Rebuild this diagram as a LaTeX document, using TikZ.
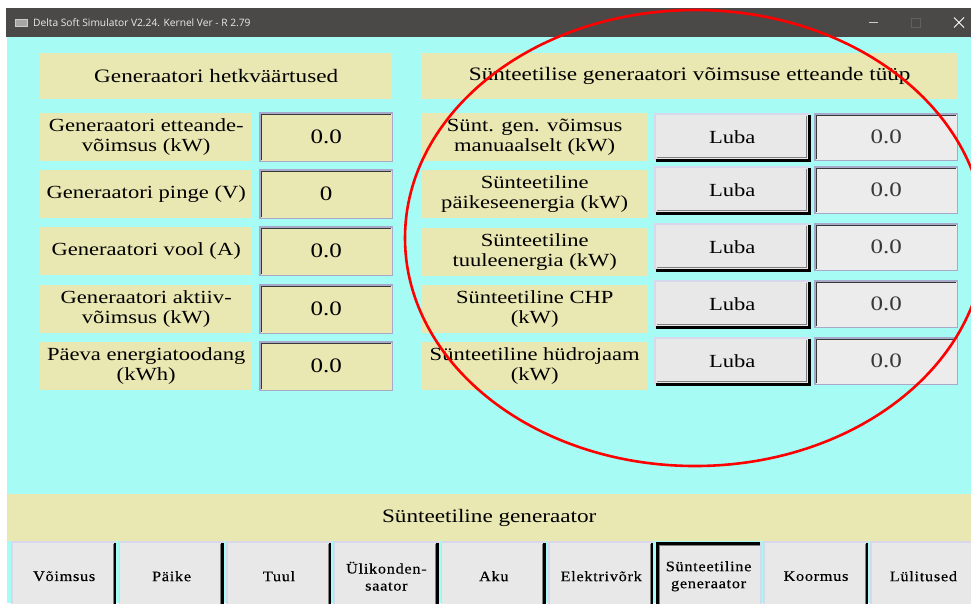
\documentclass[tikz,border=0pt]{standalone}
\usepackage{fontspec}
\setmainfont{Liberation Serif}[FakeStretch=1.22]
\newfontfamily\uifont{Open Sans}
\newfontfamily\btnfont{Liberation Serif}[FakeStretch=1.12, LetterSpace=5, FakeBold=0.4]
\definecolor{cyanbg}{HTML}{A6FCF4}
\definecolor{beige}{HTML}{E9E7B2}
\definecolor{btngray}{HTML}{E8E8E8}
\definecolor{valgray}{HTML}{ECECEC}
\definecolor{lav}{HTML}{A8A8C8}
\definecolor{ltlav}{HTML}{D8D8EC}
\definecolor{titlebar}{HTML}{4A4947}
\definecolor{dkb}{HTML}{383838}
\newcommand\lblfont{\fontsize{18.5}{20}\selectfont}
\newcommand\valfont{\fontsize{20.5}{22}\selectfont}
\newcommand\sunkenbox[1]{%
  \draw[lav, line width=1.2pt] (#1.south west) rectangle (#1.north east);
  \draw[dkb, line width=1.6pt] ([xshift=1.6pt,yshift=1.2pt]#1.south west) -- ([xshift=1.6pt,yshift=-1.6pt]#1.north west) -- ([xshift=-1.2pt,yshift=-1.6pt]#1.north east);}
\newcommand\raisedbox[1]{%
  \draw[ltlav, line width=1.5pt] (#1.south west) -- (#1.north west) -- (#1.north east);
  \draw[black, line width=2.2pt] ([yshift=-1pt]#1.north east) -- (#1.south east) -- ([xshift=1pt]#1.south west);
  \draw[gray, line width=1pt] ([xshift=-2.6pt,yshift=-1.5pt]#1.north east) -- ([xshift=-2.6pt,yshift=2.6pt]#1.south east) -- ([xshift=1.5pt,yshift=2.6pt]#1.south west);}
\newcommand\tabbox[1]{%
  \draw[ltlav, line width=1.5pt] (#1.south west) -- (#1.north west) -- (#1.north east);
  \draw[black, line width=2.6pt] ([xshift=-1.3pt,yshift=-1pt]#1.north east) -- ([xshift=-1.3pt]#1.south east);
  \draw[gray, line width=1pt] ([xshift=-3.2pt,yshift=-1.5pt]#1.north east) -- ([xshift=-3.2pt]#1.south east);}
\newcommand\tabpressed[1]{%
  \draw[black, line width=2.6pt] ([xshift=1.3pt]#1.south west) -- ([xshift=1.3pt,yshift=-1.3pt]#1.north west) -- ([yshift=-1.3pt]#1.north east);
  \draw[gray, line width=1pt] ([xshift=3.2pt]#1.south west) -- ([xshift=3.2pt,yshift=-3.2pt]#1.north west) -- ([yshift=-3.2pt]#1.north east);
  \draw[ltlav, line width=1.5pt] (#1.north east) -- (#1.south east);}
\begin{document}
\begin{tikzpicture}[x=1pt,y=-1pt,
  panel/.style={fill=beige, inner sep=0pt, align=center, anchor=north west, font=\lblfont},
  valbox/.style={fill=beige, inner sep=0pt, anchor=north west, font=\valfont},
  valgbox/.style={fill=valgray, inner sep=0pt, anchor=north west, font=\valfont, text=dkb},
  lubabox/.style={fill=btngray, inner sep=0pt, anchor=north west, font=\lblfont, minimum width=154, minimum height=46},
  tabbtn/.style={fill=btngray, inner sep=0pt, anchor=north west, align=center, font=\btnfont\fontsize{14.5}{17}\selectfont, minimum width=104, minimum height=68},
  ctrl/.style={line width=1.1pt}]
\useasboundingbox (0,0) rectangle (971,603);
\clip (0,0) rectangle (971,603);
\fill[white] (0,0) rectangle (971,603);
\fill[cyanbg] (7,37) rectangle (971,603);
% title bar
\fill[titlebar] (6,8) rectangle (971,37);
\node[fill=gray!70, draw=gray!40, line width=0.6pt, minimum width=12, minimum height=7, inner sep=0pt, anchor=north west] (icon) at (15,19) {};
\node[anchor=west, inner sep=0pt, text=white!92!black, font=\uifont\fontsize{10.2}{11}\selectfont] (title) at (33,22.5) {Delta Soft Simulator V2.24. Kernel Ver - R 2.79};
\coordinate (minA) at (869,22.5); \coordinate (minB) at (878,22.5);
\draw[ctrl, white!80!black] (minA) -- (minB);
\coordinate (maxA) at (911,17.5);
\node[draw=gray!75!black, line width=0.8pt, minimum width=9, minimum height=9, inner sep=0pt, anchor=north west] (maxbox) at (maxA) {};
\coordinate (xA) at (954,17.5); \coordinate (xB) at (964,27.5);
\coordinate (xC) at (954,27.5); \coordinate (xD) at (964,17.5);
\draw[line width=0.9pt, white] (xA) -- (xB) (xC) -- (xD);
% headings
\node[panel, minimum width=352, minimum height=46, font=\fontsize{19}{21}\selectfont] (hL) at (40,53) {Generaatori hetkväärtused};
\node[panel, minimum width=537, minimum height=46, font=\fontsize{19}{21}\selectfont] (hR) at (421,53) {Sünteetilise generaatori võimsuse etteande tüüp};
% left rows
\foreach \i/\t/\txt/\v in {1/113/{Generaatori etteande-\\võimsus (kW)}/0.0,
                          2/170/{Generaatori pinge (V)}/0,
                          3/227/{Generaatori vool (A)}/0.0,
                          4/285/{Generaatori aktiiv-\\võimsus (kW)}/0.0,
                          5/342/{Päeva energiatoodang\\(kWh)}/0.0}{
  \node[panel, minimum width=212, minimum height=48] (L\i) at (40,\t) {\txt};
  \node[valbox, minimum width=132, minimum height=48] (LV\i) at (260,\t) {\v};
  \sunkenbox{LV\i}
}
% right rows
\foreach \i/\t/\b/\txt in {1/113/114/{Sünt. gen. võimsus\\manuaalselt (kW)},
                          2/170/167/{Sünteetiline\\päikeseenergia (kW)},
                          3/228/224/{Sünteetiline\\tuuleenergia (kW)},
                          4/285/281/{Sünteetiline CHP\\(kW)},
                          5/342/338/{Sünteetiline hüdrojaam\\(kW)}}{
  \node[panel, minimum width=227, minimum height=48] (R\i) at (421,\t) {\txt};
  \node[lubabox] (RB\i) at (655,\b) {Luba};
  \raisedbox{RB\i}
  \node[valgbox, minimum width=142, minimum height=46] (RV\i) at (815,\b) {0.0};
  \sunkenbox{RV\i}
}
% bottom bar
\node[panel, minimum width=964, minimum height=47, font=\fontsize{19}{21}\selectfont] (hB) at (7,494) {Sünteetiline generaator};
% bottom tabs
\foreach \i/\txt in {0/Võimsus,1/Päike,2/Tuul,3/{Ülikonden-\\saator},4/Aku,5/Elektrivõrk,7/Koormus,8/Lülitused}{
  \node[tabbtn] (T\i) at ({12+107.4*\i},542) {\txt};
  \tabbox{T\i}
}
\node[tabbtn] (T6) at ({12+107.4*6},542) {Sünteetiline\\generaator};
\tabpressed{T6}
% red ellipse
\draw[red, line width=2.6pt] (695,238) ellipse [x radius=290, y radius=228];
\end{tikzpicture}
\end{document}
